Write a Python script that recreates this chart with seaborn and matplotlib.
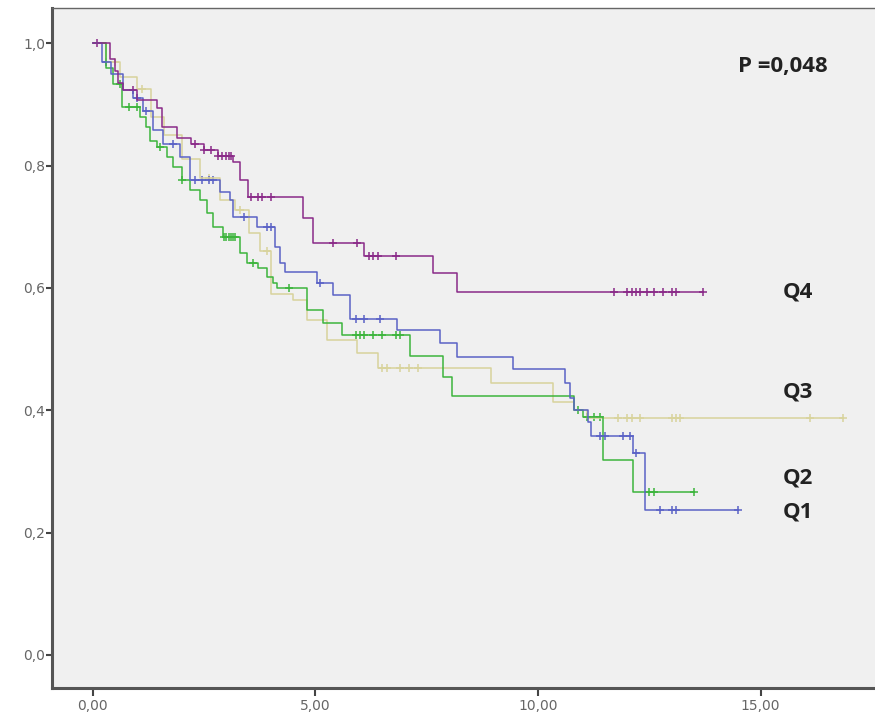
import numpy as np
import pandas as pd
import matplotlib
matplotlib.use("Agg")
import matplotlib.pyplot as plt
import seaborn as sns

# Kaplan-Meier steps (time, survival after the step)
q1_t = [0, 0.2, 0.4, 0.67, 0.9, 1.12, 1.35, 1.57, 1.96, 2.18, 2.85, 3.08, 3.15, 3.68, 4.1, 4.2, 4.31,
        5.03, 5.4, 5.78, 6.83, 7.8, 8.18, 9.44, 10.6, 10.72, 10.8, 11.12, 11.2, 12.13, 12.4]
q1_s = [1.0, 0.97, 0.95, 0.923, 0.91, 0.89, 0.858, 0.836, 0.814, 0.776, 0.757, 0.743, 0.716, 0.70, 0.667, 0.64, 0.626,
        0.608, 0.588, 0.55, 0.531, 0.51, 0.487, 0.467, 0.444, 0.42, 0.40, 0.381, 0.358, 0.33, 0.237]
q1_end = 14.5
q1_cens = [0.3, 1.0, 1.2, 1.8, 2.3, 2.45, 2.6, 2.7, 3.4, 3.9, 4.0, 5.1, 5.9, 6.1, 6.45,
           11.4, 11.5, 11.9, 12.07, 12.2, 12.74, 13.0, 13.1, 14.5]

q2_t = [0, 0.3, 0.46, 0.65, 1.05, 1.2, 1.28, 1.45, 1.66, 1.8, 2.0, 2.18, 2.4, 2.56, 2.7, 2.92, 3.3,
        3.46, 3.7, 3.9, 4.05, 4.13, 4.8, 5.17, 5.6, 7.12, 7.87, 8.07, 10.8, 11.0, 11.46, 12.13]
q2_s = [1.0, 0.96, 0.934, 0.895, 0.88, 0.863, 0.84, 0.83, 0.814, 0.797, 0.776, 0.76, 0.743, 0.722, 0.70, 0.683, 0.657,
        0.64, 0.632, 0.618, 0.608, 0.60, 0.564, 0.542, 0.523, 0.489, 0.454, 0.423, 0.40, 0.389, 0.318, 0.266]
q2_end = 13.5
q2_cens = [0.6, 0.8, 1.0, 1.5, 2.0, 2.95, 3.0, 3.05, 3.1, 3.15, 3.2, 3.6, 4.4, 5.9, 6.0, 6.1, 6.3, 6.5,
           6.8, 6.9, 10.9, 11.1, 11.25, 11.4, 12.5, 12.6, 13.5]

q3_t = [0, 0.3, 0.6, 1.0, 1.3, 1.6, 2.0, 2.4, 2.85, 3.2, 3.5, 3.75, 4.0, 4.5, 4.8, 5.26, 5.93, 6.4,
        8.95, 10.34, 10.8, 11.1]
q3_s = [1.0, 0.97, 0.945, 0.925, 0.88, 0.85, 0.81, 0.78, 0.743, 0.727, 0.69, 0.66, 0.59, 0.58, 0.547, 0.515, 0.493, 0.469,
        0.444, 0.413, 0.40, 0.387]
q3_end = 16.85
q3_cens = [0.5, 1.1, 2.6, 3.3, 3.9, 6.5, 6.6, 6.9, 7.1, 7.3, 11.8, 12.0, 12.1, 12.3, 13.0, 13.1, 13.2,
           16.1, 16.85]

q4_t = [0, 0.38, 0.5, 0.56, 0.67, 1.0, 1.44, 1.55, 1.9, 2.2, 2.5, 2.8, 3.15, 3.3, 3.48, 4.72, 4.94,
        6.1, 7.64, 8.18]
q4_s = [1.0, 0.975, 0.955, 0.935, 0.923, 0.907, 0.894, 0.863, 0.845, 0.835, 0.825, 0.815, 0.806, 0.776, 0.749, 0.714, 0.673,
        0.652, 0.624, 0.593]
q4_end = 13.7
q4_cens = [0.1, 0.9, 2.3, 2.5, 2.65, 2.8, 2.9, 3.0, 3.05, 3.1, 3.55, 3.7, 3.8, 4.0, 5.4, 5.93, 6.2, 6.3,
           6.4, 6.8, 11.7, 12.0, 12.1, 12.2, 12.3, 12.45, 12.6, 12.8, 13.0, 13.1, 13.7]

groups = ["Q3", "Q2", "Q1", "Q4"]   # drawing order, Q4 on top
colors = {"Q1": "#5a62c6", "Q2": "#3cb43c", "Q3": "#d8d39c", "Q4": "#8a2a88"}
p_text = "P =0,048"


def step_frame(name, t, s, end):
    t = list(t) + [end]
    s = list(s) + [s[-1]]
    return pd.DataFrame({"time": t, "surv": s, "group": name})


def censor_frame(name, t, s, cens):
    idx = np.searchsorted(np.asarray(t), np.asarray(cens), side="right") - 1
    return pd.DataFrame({"time": cens, "surv": np.asarray(s)[idx], "group": name})


data = {
    "Q1": (q1_t, q1_s, q1_end, q1_cens),
    "Q2": (q2_t, q2_s, q2_end, q2_cens),
    "Q3": (q3_t, q3_s, q3_end, q3_cens),
    "Q4": (q4_t, q4_s, q4_end, q4_cens),
}

fig = plt.figure(figsize=(8.75, 7.2), dpi=100)
ax = fig.add_axes([0.0594, 0.0444, 0.9406, 0.944])
ax.set_facecolor("#f0f0f0")

for g in groups:
    t, s, end, cens = data[g]
    sns.lineplot(data=step_frame(g, t, s, end), x="time", y="surv", ax=ax,
                 color=colors[g], estimator=None, sort=False,
                 drawstyle="steps-post", linewidth=1.1, legend=False)
    sns.scatterplot(data=censor_frame(g, t, s, cens), x="time", y="surv", ax=ax,
                    color=colors[g], marker="+", s=30, linewidth=1.1, legend=False)

ax.set_xlim(-0.92, 17.57)
ax.set_ylim(-0.054, 1.057)
ax.set_xticks([0, 5, 10, 15])
ax.set_xticklabels(["0,00", "5,00", "10,00", "15,00"])
ax.set_yticks([0, 0.2, 0.4, 0.6, 0.8, 1.0])
ax.set_yticklabels(["0,0", "0,2", "0,4", "0,6", "0,8", "1,0"])
ax.set_xlabel("")
ax.set_ylabel("")
ax.tick_params(direction="out", colors="#444444", labelcolor="#666666",
               labelsize=10, width=1.5)
ax.tick_params(axis="x", length=6, pad=2)
ax.tick_params(axis="y", length=4, pad=1)
for side in ["left", "bottom"]:
    ax.spines[side].set_color("#555555")
    ax.spines[side].set_linewidth(2.2)
ax.spines["top"].set_color("#666666")
ax.spines["top"].set_linewidth(1.0)
ax.spines["right"].set_visible(False)

lab_font = dict(family=["Open Sans", "DejaVu Sans"], fontweight="bold", fontsize=16, color="#222222")
ax.text(15.5, 0.593, "Q4", va="center", ha="left", **lab_font)
ax.text(15.5, 0.43, "Q3", va="center", ha="left", **lab_font)
ax.text(15.5, 0.289, "Q2", va="center", ha="left", **lab_font)
ax.text(15.5, 0.234, "Q1", va="center", ha="left", **lab_font)
ax.text(14.5, 0.962, p_text, va="center", ha="left", **lab_font)

fig.savefig("out.png", dpi=100)
